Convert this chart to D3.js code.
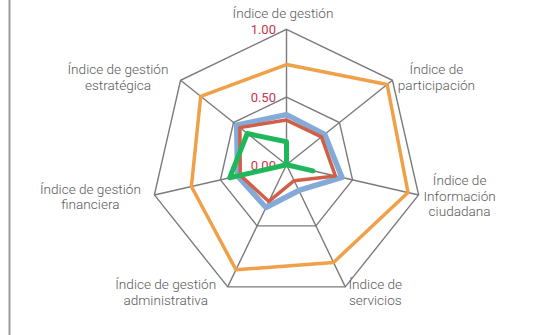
<!DOCTYPE html>
<html lang="es">
<head>
<meta charset="UTF-8">
<title>Radar</title>
<style>
  body { margin: 0; background: #fff; }
  text { font-family: Roboto, "Liberation Sans", sans-serif; }
</style>
</head>
<body>
<script src="https://cdn.jsdelivr.net/npm/d3@7"></script>
<script>
var axes = [
  ["Índice de gestión"],
  ["Índice de", "participación"],
  ["Índice de", "Información", "ciudadana"],
  ["Índice de", "servicios"],
  ["Índice de gestión", "administrativa"],
  ["Índice de gestión", "financiera"],
  ["Índice de gestión", "estratégica"]
];
var orange = [0.74, 0.95, 0.92, 0.80, 0.86, 0.72, 0.81];
var blue   = [0.37, 0.36, 0.42, 0.21, 0.35, 0.37, 0.47];
var red    = [0.33, 0.33, 0.37, 0.13, 0.30, 0.35, 0.44];
var green  = [0.17, 0.00, 0.20, 0.00, 0.00, 0.43, 0.37];
var ticks = [0, 0.5, 1];
var tickLabels = ["0.00", "0.50", "1.00"];

var width = 540, height = 335;
var cx = 286.5, cy = 164.8, R = 135.5;

var svg = d3.select('body').append('svg').attr('width', width).attr('height', height);

// left border line
svg.append('line').attr('x1', 9.5).attr('x2', 9.5).attr('y1', 0).attr('y2', height)
   .attr('stroke', '#9a9a9a').attr('stroke-width', 2);

var g = svg.append('g').attr('transform', 'translate(' + cx + ',' + cy + ')');

var rScale = d3.scaleLinear().domain([0, 1]).range([0, R]);
var angle = d3.scaleLinear().domain([0, axes.length]).range([0, 2 * Math.PI]);

function pt(i, v) {
  var a = angle(i);
  return [Math.sin(a) * rScale(v), -Math.cos(a) * rScale(v)];
}

var radial = d3.lineRadial()
  .angle(function(d, i) { return angle(i); })
  .radius(function(d) { return rScale(d); })
  .curve(d3.curveLinearClosed);

// grid rings
[0.5, 1].forEach(function(t) {
  g.append('path').attr('d', radial(axes.map(function() { return t; })))
   .attr('fill', 'none').attr('stroke', '#7b7b7b').attr('stroke-width', 1.4);
});

// spokes
g.selectAll('.spoke').data(axes).enter().append('line')
  .attr('x1', 0).attr('y1', 0)
  .attr('x2', function(d, i) { return pt(i, 1)[0]; })
  .attr('y2', function(d, i) { return pt(i, 1)[1]; })
  .attr('stroke', '#7b7b7b').attr('stroke-width', 1.4);

// tick labels
g.selectAll('.tick').data(ticks).enter().append('text')
  .attr('x', -10.5)
  .attr('y', function(d) { return -rScale(d) + 1.5; })
  .attr('text-anchor', 'end').attr('dominant-baseline', 'middle')
  .attr('fill', '#c9344a').attr('font-size', 13)
  .text(function(d, i) { return tickLabels[i]; });

// series
var series = [
  { v: orange, c: '#f0a048', w: 3.5 },
  { v: blue, c: '#84aad8', w: 5.5 },
  { v: red, c: '#d15f48', w: 3.5 },
  { v: green, c: '#1eb85a', w: 5 }
];
g.selectAll('.series').data(series).enter().append('path')
  .attr('d', function(d) { return radial(d.v); })
  .attr('fill', 'none')
  .attr('stroke', function(d) { return d.c; })
  .attr('stroke-width', function(d) { return d.w; })
  .attr('stroke-linejoin', 'round');

// axis labels (offset from outer vertex)
var labelOffset = [[-3.5, -14.5], [44, -2], [41, 2], [30, 6.6], [-62, 6.6], [-64, 3], [-62.6, -2]];
var lineH = 15.8;
axes.forEach(function(lines, i) {
  var p = pt(i, 1);
  var x = p[0] + labelOffset[i][0];
  var yc = p[1] + labelOffset[i][1];
  var y0 = yc - (lines.length - 1) * lineH / 2;
  var t = g.append('text').attr('text-anchor', 'middle')
    .attr('fill', '#5a5a5a').attr('font-size', 13.6).attr('font-weight', 300);
  lines.forEach(function(l, j) {
    t.append('tspan').attr('x', x).attr('y', y0 + j * lineH)
      .attr('dominant-baseline', 'middle').text(l);
  });
});
</script>
</body>
</html>
